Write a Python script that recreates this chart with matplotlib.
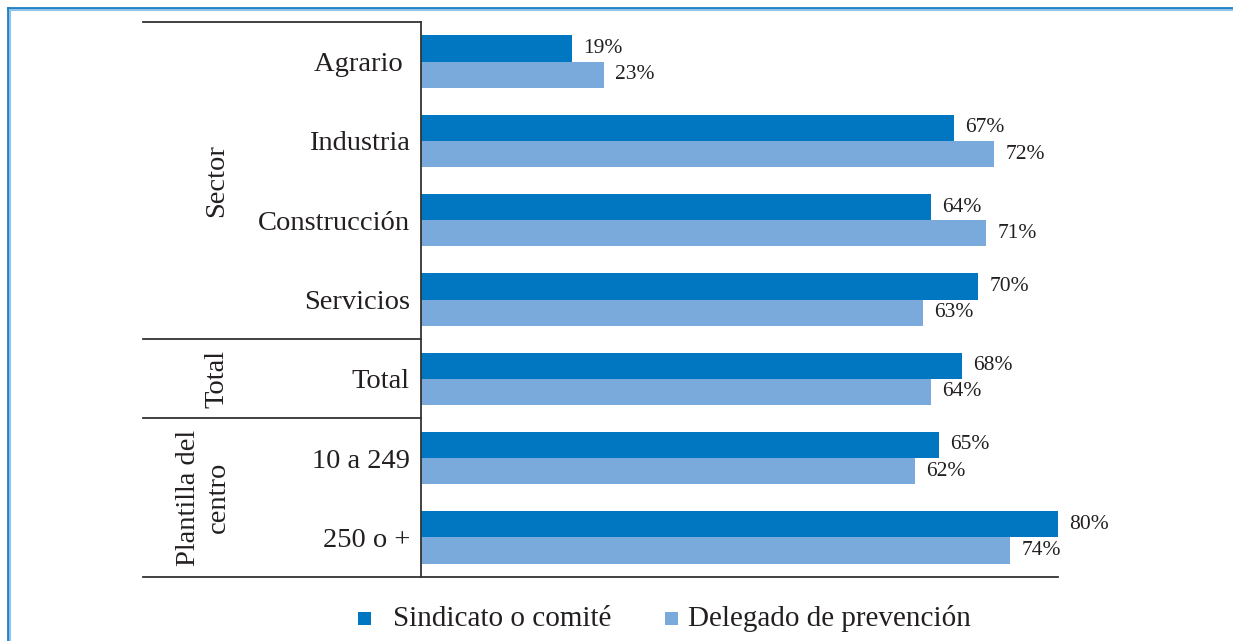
import matplotlib
matplotlib.use("Agg")
import matplotlib.pyplot as plt
import matplotlib.transforms as mtransforms
from matplotlib.lines import Line2D
from matplotlib.patches import Rectangle
import numpy as np

categories = ["Agrario ", "Industria", "Construcción", "Servicios", "Total", "10 a 249", "250 o +"]
sindicato = [19, 67, 64, 70, 68, 65, 80]
delegado = [23, 72, 71, 63, 64, 62, 74]
groups = [("Sector", 0, 3), ("Total", 4, 4), ("Plantilla del\ncentro", 5, 6)]
legend_labels = ["Sindicato o comité", "Delegado de prevención"]

DARK = "#0077c0"
LIGHT = "#7aaadb"
TXT = "#231f20"
FONT = ["Liberation Serif", "DejaVu Serif"]

W, H = 1233, 641
fig = plt.figure(figsize=(W / 100, H / 100), dpi=100)
plt.rcParams["font.family"] = FONT


def fx(px):
    return px / W


def fy(py):
    return 1 - py / H


ax = fig.add_axes([fx(421), fy(577), fx(1058) - fx(421), fy(22) - fy(577)])
y = np.arange(len(categories))
h = 0.33
ax.barh(y - h / 2, sindicato, height=h, color=DARK, zorder=2)
ax.barh(y + h / 2, delegado, height=h, color=LIGHT, zorder=2)
ax.set_xlim(0, 80)
ax.set_ylim(len(categories) - 0.5, -0.5)

for i in range(len(categories)):
    ax.annotate(f"{sindicato[i]}%", (sindicato[i], y[i] - h / 2), xytext=(8, 0),
                textcoords="offset points", va="center", ha="left", fontsize=15.5,
                color=TXT, annotation_clip=False)
    ax.annotate(f"{delegado[i]}%", (delegado[i], y[i] + h / 2), xytext=(8, 0),
                textcoords="offset points", va="center", ha="left", fontsize=15.5,
                color=TXT, annotation_clip=False)

ax.set_yticks(y)
ax.set_yticklabels(categories, fontsize=20.5, color=TXT)
ax.tick_params(axis="y", length=0, pad=8)
ax.set_xticks([])
for s in ["top", "right"]:
    ax.spines[s].set_visible(False)
ax.spines["left"].set_color("#333333")
ax.spines["bottom"].set_color("#333333")
ax.spines["left"].set_linewidth(1.3)
ax.spines["bottom"].set_linewidth(1.3)

# group separators and labels on the left
trans = mtransforms.blended_transform_factory(fig.transFigure, ax.transData)
bounds = [-0.5, 3.5, 4.5, 6.5]
for b in bounds:
    ax.add_line(Line2D([fx(143), fx(421)], [b, b], transform=trans, color="#333333",
                       lw=1.3, clip_on=False))
for (name, a, b), gx in zip(groups, [217, 217, 203]):
    ax.text(fx(gx), (a + b) / 2, name, transform=trans, rotation=90, ha="center",
            va="center", fontsize=20.5, color=TXT, multialignment="center",
            linespacing=1.25)

# legend
for k, (lab, col) in enumerate(zip(legend_labels, [DARK, LIGHT])):
    x0 = [358, 665][k]
    fig.patches.append(Rectangle((fx(x0), fy(625)), fx(13), 13 / H, transform=fig.transFigure,
                                 facecolor=col, edgecolor="none"))
    fig.text(fx([393, 688][k]), fy(619), lab, ha="left", va="center", fontsize=21, color=TXT)

# blue frame
for off, col, lw in [(8, "#1f7fc4", 2.0), (10, "#8fc3ea", 1.5)]:
    fig.add_artist(Line2D([fx(off), fx(W + 5)], [fy(off), fy(off)], color=col, lw=lw,
                          transform=fig.transFigure))
    fig.add_artist(Line2D([fx(off), fx(off)], [fy(off), fy(H + 5)], color=col, lw=lw,
                          transform=fig.transFigure))

fig.savefig("out.png", dpi=100)
